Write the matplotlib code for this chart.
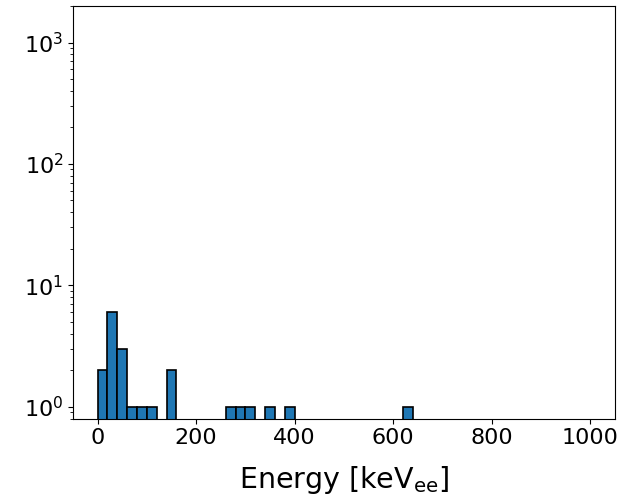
import numpy as np
import matplotlib
matplotlib.use("Agg")
import matplotlib.pyplot as plt

# Histogram bins (keV_ee) and counts
bin_edges = np.arange(0, 1001, 20)
bin_lefts = [0, 20, 40, 60, 80, 100, 140, 260, 280, 300, 340, 380, 620]
bin_counts = [2, 6, 3, 1, 1, 1, 2, 1, 1, 1, 1, 1, 1]

counts = np.zeros(len(bin_edges) - 1)
for l, c in zip(bin_lefts, bin_counts):
    counts[l // 20] = c

fig = plt.figure(figsize=(6.23, 4.97), dpi=100)
ax = fig.add_axes([73 / 623, 1 - 418.5 / 497, (615 - 73) / 623, (418.5 - 6) / 497])
ax.hist(bin_edges[:-1], bins=bin_edges, weights=counts, color="#1f77b4",
        edgecolor="black", linewidth=1.2)
ax.set_yscale("log")
ax.set_ylim(0.8, 2000)
ax.set_xticks([0, 200, 400, 600, 800, 1000])
ax.tick_params(labelsize=16)
ax.set_xlabel("Energy [keV$_{\\mathrm{ee}}$]", fontsize=20.5, labelpad=11)
fig.savefig("out.png", dpi=100)
